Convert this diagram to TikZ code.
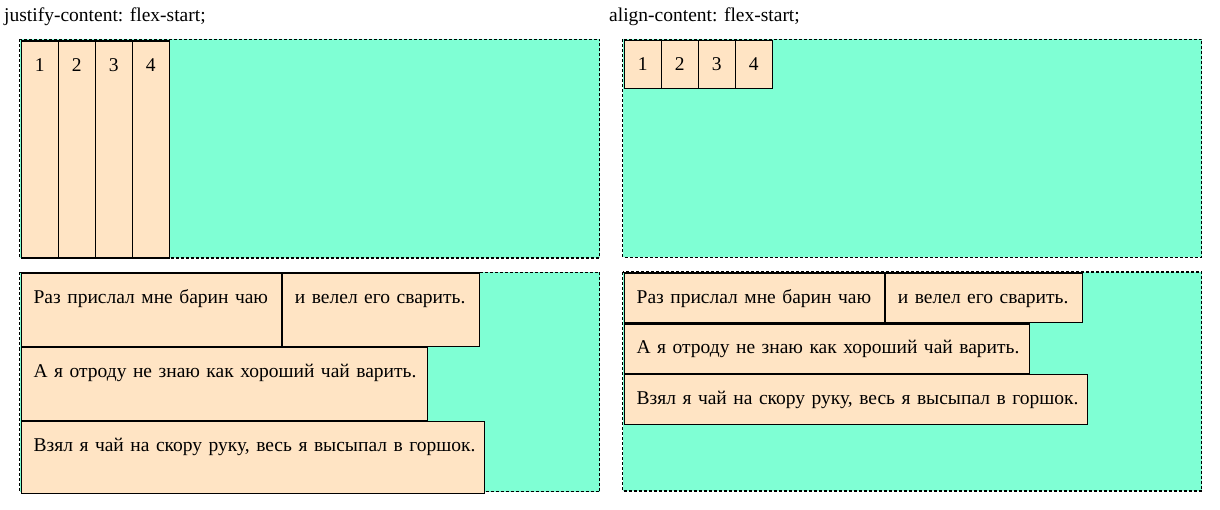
\documentclass[tikz,border=0pt]{standalone}
\usepackage{fontspec}
\setmainfont{Liberation Serif}
\definecolor{aqua}{HTML}{7FFFD4}
\definecolor{bisq}{HTML}{FFE4C4}
\tikzset{
  flexbox/.style={draw=black, fill=aqua, line width=1.2pt, dash pattern=on 3pt off 2pt},
  flexitem/.style={draw=black, fill=bisq, line width=1.3pt, anchor=north west,
    inner xsep=12.5pt, inner ysep=15pt, text height=15pt, text depth=#1,
    font=\fontsize{19.5}{22}\selectfont},
  flexitem/.default=4pt,
  caption/.style={anchor=base west, inner sep=0pt, font=\fontsize{19.5}{22}\selectfont}
}
\begin{document}
\begin{tikzpicture}[x=1pt,y=-1pt]
  \useasboundingbox (0,0) rectangle (1220,510);
  \node[caption] (jtitle) at (4,22) {justify-content: flex-start;};
  \node[caption] (atitle) at (609,22) {align-content: flex-start;};
  \draw[flexbox] (19.5,39.5) rectangle (599.5,258);
  \draw[flexbox] (622.5,39.5) rectangle (1201.5,257.5);
  \draw[flexbox] (19.5,272.5) rectangle (599.5,491.5);
  \draw[flexbox] (622.5,272) rectangle (1201.5,491);
  \foreach \i in {1,...,4}
    \node[flexitem=172pt, text width=12pt, align=center] (jc\i) at ({20.5+37*(\i-1)},40.5) {\i};
  \foreach \i in {1,...,4}
    \node[flexitem=3pt, text width=12pt, align=center] (ac\i) at ({623.5+37*(\i-1)},40) {\i};
  \node[flexitem=28pt, text width=235pt, align=left] (jr1) at (20.5,272.5) {\mbox{Раз прислал мне барин чаю}};
  \node[flexitem=28pt, text width=172pt, align=left] (jr2) at (jr1.north east) {\mbox{и велел его сварить.}};
  \node[flexitem=28pt, text width=381pt, align=left] (jr3) at (jr1.south west) {\mbox{А я отроду не знаю как хороший чай варить.}};
  \node[flexitem=27pt, text width=438pt, align=left] (jr4) at (jr3.south west) {\mbox{Взял я чай на скору руку, весь я высыпал в горшок.}};
  \node[flexitem=4.5pt, text width=235pt, align=left] (ar1) at (623.5,272.5) {\mbox{Раз прислал мне барин чаю}};
  \node[flexitem=4.5pt, text width=172pt, align=left] (ar2) at (ar1.north east) {\mbox{и велел его сварить.}};
  \node[flexitem=4.5pt, text width=380.5pt, align=left] (ar3) at (ar1.south west) {\mbox{А я отроду не знаю как хороший чай варить.}};
  \node[flexitem=4.5pt, text width=438pt, align=left] (ar4) at (ar3.south west) {\mbox{Взял я чай на скору руку, весь я высыпал в горшок.}};
\end{tikzpicture}
\end{document}
